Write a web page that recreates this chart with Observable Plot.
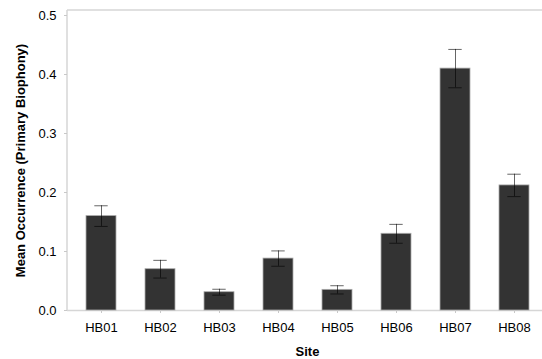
<!DOCTYPE html>
<html>
<head>
<meta charset="utf-8">
<script src="https://cdn.jsdelivr.net/npm/d3@7"></script>
<script src="https://cdn.jsdelivr.net/npm/@observablehq/plot@0.6"></script>
<style>
  html, body { margin: 0; padding: 0; background: #fff; }
  #chart svg { display: block; }
</style>
</head>
<body>
<div id="chart"></div>
<script>
// Mean occurrence of primary biophony per site, with standard errors
const sites = ["HB01", "HB02", "HB03", "HB04", "HB05", "HB06", "HB07", "HB08"];
const means = [0.16, 0.07, 0.031, 0.088, 0.035, 0.13, 0.41, 0.212];
const errors = [0.0175, 0.015, 0.005, 0.013, 0.007, 0.016, 0.0325, 0.019];
const yTicks = [0, 0.1, 0.2, 0.3, 0.4, 0.5];
const yTitle = "Mean Occurrence (Primary Biophony)";
const xTitle = "Site";

const rows = sites.map((site, i) => ({
  site,
  mean: means[i],
  lo: means[i] - errors[i],
  hi: means[i] + errors[i]
}));

const axisGray = "#d6d6d6";

// light top and left border of the plotting area
const border = (index, scales, values, dims) => {
  const g = d3.create("svg:g")
    .attr("stroke", axisGray)
    .attr("stroke-width", 1.5)
    .attr("fill", "none");
  const left = dims.marginLeft;
  const top = dims.marginTop;
  const right = dims.width - dims.marginRight;
  const bottom = dims.height - dims.marginBottom;
  g.append("line").attr("x1", left).attr("x2", right).attr("y1", top).attr("y2", top);
  g.append("line").attr("x1", left).attr("x2", left).attr("y1", top).attr("y2", bottom);
  return g.node();
};

const chart = Plot.plot({
  width: 542,
  height: 359,
  marginLeft: 67,
  marginRight: 0,
  marginTop: 10,
  marginBottom: 49,
  style: {
    fontFamily: "'Liberation Sans', Arial, Helvetica, sans-serif",
    fontSize: "13px",
    color: "#000",
    background: "#fff"
  },
  x: { domain: sites, range: [68, 547], paddingInner: 0.5, paddingOuter: 0.25, align: 0.5, label: null },
  y: { domain: [0, 0.5], range: [310, 15], label: null },
  marks: [
    border,
    Plot.ruleY([0], { stroke: axisGray, strokeWidth: 1.5 }),
    Plot.barY(rows, {
      x: "site",
      y: "mean",
      fill: "#333",
      stroke: "#aaa",
      strokeWidth: 0.8
    }),
    Plot.ruleX(rows, {
      x: "site",
      y1: "lo",
      y2: "hi",
      stroke: "#000",
      strokeOpacity: 0.6,
      strokeWidth: 1
    }),
    Plot.tickY(rows, {
      x: "site",
      y: "hi",
      stroke: "#000",
      strokeOpacity: 0.6,
      strokeWidth: 1,
      insetLeft: 8.3,
      insetRight: 8.3
    }),
    Plot.tickY(rows, {
      x: "site",
      y: "lo",
      stroke: "#000",
      strokeOpacity: 0.6,
      strokeWidth: 1,
      insetLeft: 8.3,
      insetRight: 8.3
    }),
    Plot.axisY({
      ticks: yTicks,
      tickFormat: d3.format(".1f"),
      tickSize: 3,
      tickPadding: 8,
      stroke: "#c8c8c8",
      fontSize: 13,
      label: null
    }),
    Plot.axisX({
      tickSize: 3,
      tickPadding: 9,
      stroke: "#c8c8c8",
      fontSize: 13,
      label: null
    }),
    Plot.text([yTitle], {
      frameAnchor: "left",
      rotate: -90,
      dx: -47,
      textAnchor: "middle",
      lineAnchor: "middle",
      fontWeight: "bold",
      fontSize: 13
    }),
    Plot.text([xTitle], {
      frameAnchor: "bottom",
      dx: 2.5,
      dy: 41,
      textAnchor: "middle",
      lineAnchor: "middle",
      fontWeight: "bold",
      fontSize: 13
    })
  ]
});

document.getElementById("chart").append(chart);
</script>
</body>
</html>
